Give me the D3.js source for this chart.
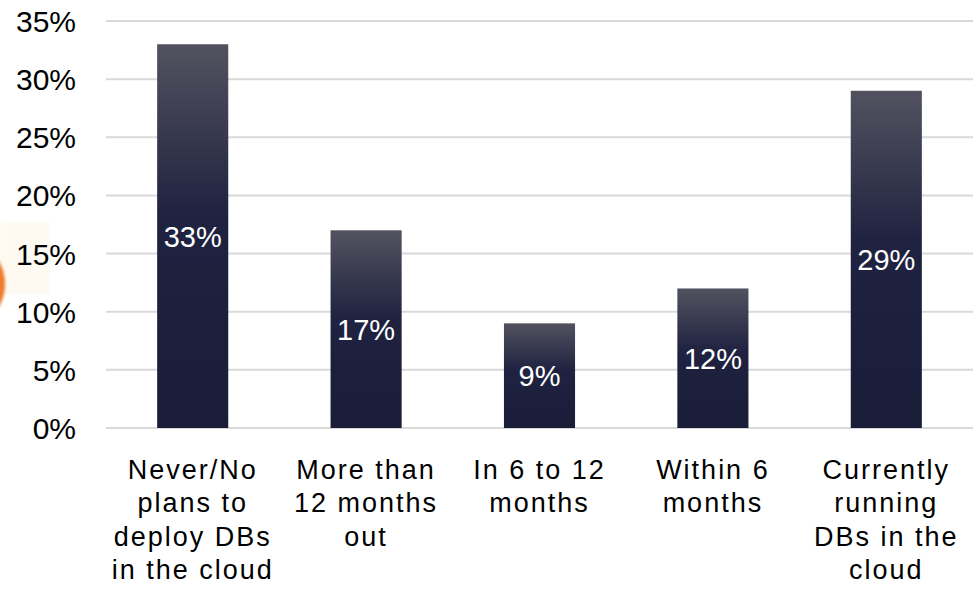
<!DOCTYPE html>
<html>
<head>
<meta charset="utf-8">
<script src="https://cdn.jsdelivr.net/npm/d3@7/dist/d3.min.js"></script>
<style>
  html, body { margin: 0; padding: 0; background: #ffffff; }
  svg { display: block; font-family: "Liberation Sans", Arial, sans-serif; }
</style>
</head>
<body>
<svg id="chart" width="973" height="590"></svg>
<script>
// Survey: timeline for deploying databases in the cloud
const categories = [
  ["Never/No", "plans to", "deploy DBs", "in the cloud"],
  ["More than", "12 months", "out"],
  ["In 6 to 12", "months"],
  ["Within 6", "months"],
  ["Currently", "running", "DBs in the", "cloud"]
];
const values = [33, 17, 9, 12, 29];
const yTicks = [0, 5, 10, 15, 20, 25, 30, 35];

const width = 973, height = 590;
const margin = { top: 21, right: 0, bottom: 162, left: 106 };

const svg = d3.select("#chart");

// soft slide decoration at the left edge
const defs = svg.append("defs");
const blur = defs.append("filter").attr("id", "soft").attr("x", "-50%").attr("y", "-50%").attr("width", "200%").attr("height", "200%");
blur.append("feGaussianBlur").attr("stdDeviation", 1.5);
svg.append("rect").attr("x", 0).attr("y", 222).attr("width", 50).attr("height", 72)
  .attr("fill", "#fef8ec").attr("opacity", 0.7).attr("filter", "url(#soft)");
svg.append("ellipse").attr("cx", -40).attr("cy", 284).attr("rx", 45).attr("ry", 46)
  .attr("fill", "#ee7a2c").attr("filter", "url(#soft)");

const grad = defs.append("linearGradient").attr("id", "barGrad")
  .attr("x1", 0).attr("y1", 0).attr("x2", 0).attr("y2", 1);
grad.append("stop").attr("offset", "0%").attr("stop-color", "#52525f");
grad.append("stop").attr("offset", "45%").attr("stop-color", "#1f2240");
grad.append("stop").attr("offset", "100%").attr("stop-color", "#1a1d38");

const x = d3.scaleBand()
  .domain(d3.range(categories.length))
  .range([margin.left, width - margin.right])
  .paddingInner(0.59)
  .paddingOuter(0.295);

const y = d3.scaleLinear()
  .domain([0, 35])
  .range([height - margin.bottom, margin.top]);

// gridlines
svg.append("g").selectAll("line")
  .data(yTicks)
  .join("line")
  .attr("x1", margin.left).attr("x2", width)
  .attr("y1", d => y(d)).attr("y2", d => y(d))
  .attr("stroke", "#d9d9d9").attr("stroke-width", 2);

// y axis labels
const yAxis = d3.axisLeft(y).tickValues(yTicks).tickFormat(d => d + "%").tickSize(0).tickPadding(0);
const yg = svg.append("g").attr("transform", `translate(76,0)`).call(yAxis);
yg.select(".domain").remove();
yg.selectAll("text")
  .attr("font-size", 30).attr("fill", "#000")
  .attr("font-family", "'Liberation Sans', Arial, sans-serif")
  .attr("dy", "0.35em");

// bars
svg.append("g").selectAll("rect")
  .data(values)
  .join("rect")
  .attr("x", (d, i) => x(i))
  .attr("width", x.bandwidth())
  .attr("y", d => y(d))
  .attr("height", d => y(0) - y(d))
  .attr("fill", "url(#barGrad)");

// value labels
svg.append("g").selectAll("text")
  .data(values)
  .join("text")
  .attr("x", (d, i) => x(i) + x.bandwidth() / 2)
  .attr("y", d => (y(d) + y(0)) / 2)
  .attr("dy", "0.36em")
  .attr("text-anchor", "middle")
  .attr("font-size", 29)
  .attr("fill", "#ffffff")
  .text(d => d + "%");

// category labels
const cat = svg.append("g").selectAll("text")
  .data(categories)
  .join("text")
  .attr("text-anchor", "middle")
  .attr("font-size", 27)
  .attr("letter-spacing", 2)
  .attr("fill", "#000");
cat.selectAll("tspan")
  .data((d, i) => d.map(t => ({ t, i })))
  .join("tspan")
  .attr("x", d => x(d.i) + x.bandwidth() / 2)
  .attr("y", (d, j) => 479 + j * 33.3)
  .text(d => d.t);
</script>
</body>
</html>
